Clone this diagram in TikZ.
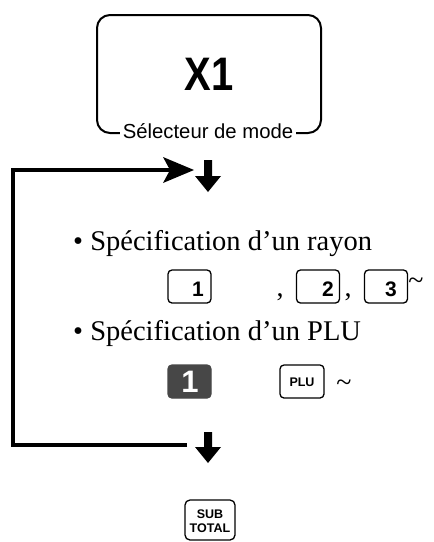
\documentclass[tikz,border=0pt]{standalone}
\usepackage{fontspec}
\setmainfont{Liberation Serif}
\newfontfamily\sansf{Liberation Sans}
\usetikzlibrary{arrows.meta}
\begin{document}
\begin{tikzpicture}[x=1pt,y=-1pt,
  keybox/.style={draw, line width=1.3pt, rounded corners=4pt, minimum width=43pt, minimum height=33pt, inner sep=0pt},
  keydigit/.style={font=\sansf\bfseries\fontsize{21}{21}\selectfont, inner sep=0pt, anchor=base east},
  bullettext/.style={anchor=base west, inner sep=0pt, font=\fontsize{28.5}{28.5}\selectfont},
  tildetext/.style={anchor=base, inner sep=0pt, font=\fontsize{28}{28}\selectfont},
  loopline/.style={line width=4pt},
  blockarrow/.style={fill=black}
]
\useasboundingbox (0,0) rectangle (434,542);

% mode selector
\node[draw, line width=2pt, rounded corners=13pt, minimum width=224pt, minimum height=118pt,
      font=\sansf\bfseries\fontsize{47}{47}\selectfont] (mode) at (209,74) {\scalebox{0.85}[1]{X1}};
\node[fill=white, inner xsep=3pt, inner ysep=1pt, font=\sansf\fontsize{20.3}{20.3}\selectfont] (modelabel) at (208,131) {Sélecteur de mode};

% first down arrow
\coordinate (arr1) at (208,160);
\fill[blockarrow] (204,160) -- (212,160) -- (212,176) -- (221,176) -- (208,192) -- (195,176) -- (204,176) -- cycle;

% text lines
\node[bullettext] (t1) at (73,250) {• Spécification d’un rayon};
\node[keybox] (k1) at (189.5,286.5) {};
\node[keydigit] (k1d) at (204,296) {1};
\node[inner sep=0pt, anchor=base, font=\fontsize{28}{28}\selectfont] (c1) at (280,296) {,};
\node[keybox] (k2) at (318,286.5) {};
\node[keydigit] (k2d) at (334,296) {2};
\node[inner sep=0pt, anchor=base, font=\fontsize{28}{28}\selectfont] (c2) at (348,296) {,};
\node[keybox] (k3) at (386,286.5) {};
\node[keydigit] (k3d) at (397,296) {3};
\node[tildetext] (tl1) at (416,289) {\char`\~};

\node[bullettext] (t2) at (73,340) {• Spécification d’un PLU};
\node[keybox, fill=black!72, draw=black!72] (kd) at (189.5,381.5) {};
\node[font=\sansf\bfseries\fontsize{31}{31}\selectfont, text=white, inner sep=0pt] (kdd) at (190,382) {1};
\node[keybox, minimum width=44pt] (plu) at (302,381.5) {};
\node[font=\sansf\bfseries\fontsize{12.5}{12.5}\selectfont, inner sep=0pt] (plut) at (302,382) {PLU};
\node[tildetext] (tl2) at (344,391) {\char`\~};

% loop
\coordinate (loopstart) at (187,445);
\draw[loopline] (loopstart) -- (13,445) -- (13,170) -- (190,170);
\fill[black] (194,170) -- (163,157) -- (170,170) -- (163,183) -- cycle;
\coordinate (looptip) at (194,170);

% second down arrow
\coordinate (arr2) at (208,432);
\fill[blockarrow] (204,432) -- (212,432) -- (212,447) -- (221,447) -- (208,463) -- (195,447) -- (204,447) -- cycle;

% SUB TOTAL key
\node[keybox, minimum width=50pt, minimum height=40pt, rounded corners=5pt] (sub) at (210,520) {};
\node[font=\sansf\bfseries\fontsize{12.5}{13.5}\selectfont, align=center, inner sep=0pt] (subt) at (210,521) {SUB\\TOTAL};
\end{tikzpicture}
\end{document}
